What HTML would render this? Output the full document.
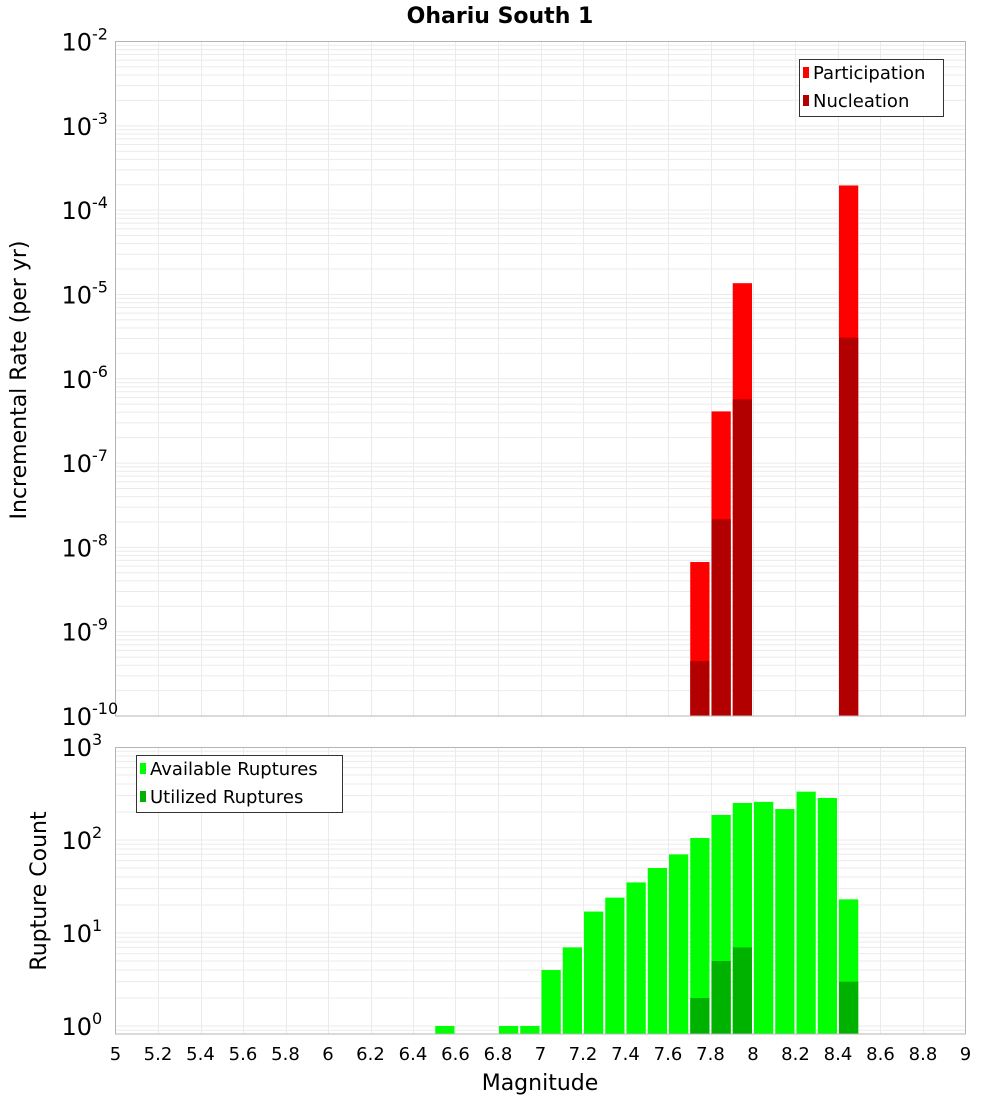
<!DOCTYPE html>
<html><head><meta charset="utf-8"><style>
body{margin:0;background:#fff;}
svg{display:block;font-family:"DejaVu Sans","Liberation Sans",sans-serif;}
</style></head><body>
<svg id="c" width="1000" height="1100"></svg>
<script>
const mags=[6.55,6.65,6.75,6.85,6.95,7.05,7.15,7.25,7.35,7.45,7.55,7.65,7.75,7.85,7.95,8.05,8.15,8.25,8.35,8.45];
const partMags=[7.75,7.85,7.95,8.45];
const participation=[6.7e-9,4.1e-7,1.36e-5,1.96e-4];
const nucleation=[4.5e-10,2.16e-8,5.7e-7,3.07e-6];
const available=[1,0,0,1,1,4,7,17,24,35,50,70,105,186,250,257,215,331,283,23];
const utilized=[0,0,0,0,0,0,0,0,0,0,0,0,2,5,7,0,0,0,0,3];
const xTicks=["5","5.2","5.4","5.6","5.8","6","6.2","6.4","6.6","6.8","7","7.2","7.4","7.6","7.8","8","8.2","8.4","8.6","8.8","9"];
const topExps=[-2,-3,-4,-5,-6,-7,-8,-9,-10];
const botExps=[3,2,1,0];

const NS="http://www.w3.org/2000/svg";
const svg=document.getElementById('c');
function el(tag,attrs,parent){const e=document.createElementNS(NS,tag);for(const k in attrs)e.setAttribute(k,attrs[k]);(parent||svg).appendChild(e);return e;}
const X0=115.5,X1=965.5;
const x=m=>X0+(m-5)/4*(X1-X0);
const T0=41.5,T1=716;
const yT=v=>T0+(-2-Math.log10(v))/8*(T1-T0);
const B0=747.5,B1=1034,BD=93;
const yB=v=>1026-Math.log10(v)*BD;

// title
let t=el('text',{x:500,y:23,'text-anchor':'middle','font-size':22,'font-weight':'bold'});
t.textContent='Ohariu South 1';



function grid(y0,y1,yfn,lo,hi){
  const g=el('g',{stroke:'#ebebeb','stroke-width':1});
  
  
  for(let i=1;i<20;i++){const xx=Math.round(x(5+i*0.2))+0.5;el('line',{x1:xx,x2:xx,y1:y0,y2:y1},g);}
  for(let e=lo;e<=hi;e++)for(let k=1;k<10;k++){const yy=yfn(k*Math.pow(10,e));if(yy>y0&&yy<y1)el('line',{x1:X0,x2:X1,y1:yy,y2:yy},g);}
}
grid(T0,T1,yT,-10,-3);
grid(B0,B1,yB,-1,2);

// top bars
const bw=x(5.1)-x(5)-2;
partMags.forEach((m,i)=>{
  const r=el('rect',{x:x(m)-bw/2,y:yT(participation[i]),width:bw,height:T1-yT(participation[i]),fill:'#ff0000'});
  
  
  const n=el('rect',{x:x(m)-bw/2,y:yT(nucleation[i]),width:bw,height:T1-yT(nucleation[i]),fill:'#b20000'});
  
  
});
// bottom bars
mags.forEach((m,i)=>{
  if(available[i]>0){
    const r=el('rect',{x:x(m)-bw/2,y:yB(available[i]),width:bw,height:B1-yB(available[i]),fill:'#00ff00'});
    
    
  }
  if(utilized[i]>0){
    const n=el('rect',{x:x(m)-bw/2,y:yB(utilized[i]),width:bw,height:B1-yB(utilized[i]),fill:'#00b200'});
    
    
  }
});

// frames
let f1=el('rect',{x:X0,y:T0,width:X1-X0,height:T1-T0,fill:'none',stroke:'#b4b4b4'});


let f2=el('rect',{x:X0,y:B0,width:X1-X0,height:B1-B0,fill:'none',stroke:'#b4b4b4'});



// y tick labels
function ylab(yy,e,name){
  const tx=el('text',{x:92,y:yy+9,'text-anchor':'end','font-size':24});
  tx.textContent='10';
  
  
  const s=el('text',{x:92,y:yy-2,'font-size':16});
  s.textContent=String(e);
  
  
}
topExps.forEach(e=>ylab(yT(Math.pow(10,e)),e,'top-y-tick-label'));
botExps.forEach(e=>ylab(yB(Math.pow(10,e)),e,'bottom-y-tick-label'));

// x tick labels
xTicks.forEach(s=>{
  const tx=el('text',{x:x(parseFloat(s)),y:1060,'text-anchor':'middle','font-size':18});
  tx.textContent=s;
  
  
});

// axis titles
let xt=el('text',{x:540,y:1090,'text-anchor':'middle','font-size':22});
xt.textContent='Magnitude';


let yt1=el('text',{x:0,y:0,'text-anchor':'middle','font-size':22,transform:'translate(26,380) rotate(-90)'});
yt1.textContent='Incremental Rate (per yr)';


let yt2=el('text',{x:0,y:0,'text-anchor':'middle','font-size':22,transform:'translate(46,891) rotate(-90)'});
yt2.textContent='Rupture Count';



// legends
function legend(bx,by,w,items,name){
  const g=el('g',{});
  
  
  el('rect',{x:bx+0.5,y:by+0.5,width:w,height:57,fill:'#fff',stroke:'#333'},g);
  items.forEach((it,i)=>{
    el('rect',{x:bx+4,y:by+8+i*28,width:6,height:11,fill:it[1]},g);
    const tx=el('text',{x:bx+14,y:by+20+i*28,'font-size':18},g);
    tx.textContent=it[0];
    
    
  });
}
legend(799,59,144,[['Participation','#ff0000'],['Nucleation','#b20000']],'top-legend');
legend(136,755,206,[['Available Ruptures','#00ff00'],['Utilized Ruptures','#00b200']],'bottom-legend');
</script>
</body></html>
